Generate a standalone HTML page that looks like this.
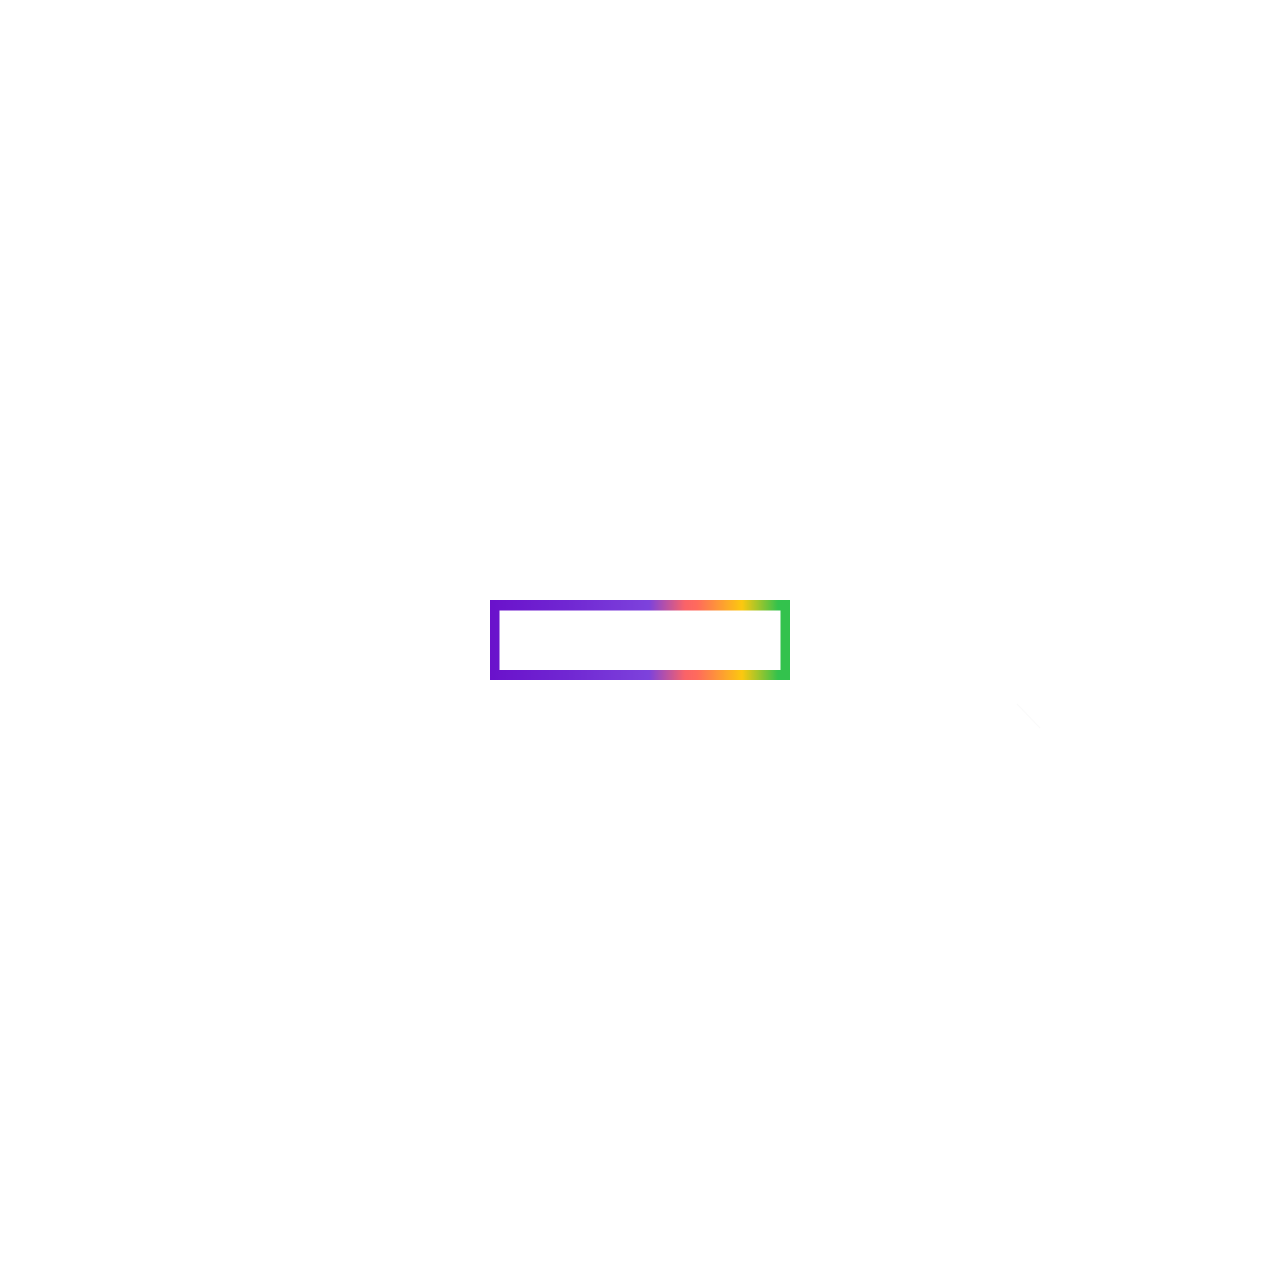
<!DOCTYPE html>
<html lang="en">
<head>
<meta charset="utf-8">
<title>Gradient outlined rectangle</title>
<style>
html,body{margin:0;padding:0;background:#fff;width:1280px;height:1280px;overflow:hidden}
svg{display:block}
</style>
</head>
<body>
<svg width="1280" height="1280" viewBox="0 0 1280 1280" xmlns="http://www.w3.org/2000/svg">
<defs>
<linearGradient id="g" gradientUnits="userSpaceOnUse" x1="490" y1="0" x2="790" y2="0">
<stop offset="0" stop-color="#6a11cb"/>
<stop offset="0.25" stop-color="#7026d2"/>
<stop offset="0.53" stop-color="#7d42dc"/>
<stop offset="0.65" stop-color="#fa6368"/>
<stop offset="0.69" stop-color="#ff6a5c"/>
<stop offset="0.84" stop-color="#fcc80f"/>
<stop offset="0.96" stop-color="#33c24d"/>
<stop offset="1" stop-color="#33c24d"/>
</linearGradient>
</defs>
<rect width="1280" height="1280" fill="#ffffff"/>
<path fill="url(#g)" fill-rule="evenodd" d="M490 600H790V680H490ZM499.5 610.5V670H780.5V610.5Z"/>
<path d="M1017 704L1040 728" stroke="#fafafa" stroke-width="1" fill="none"/>
</svg>
</body>
</html>
